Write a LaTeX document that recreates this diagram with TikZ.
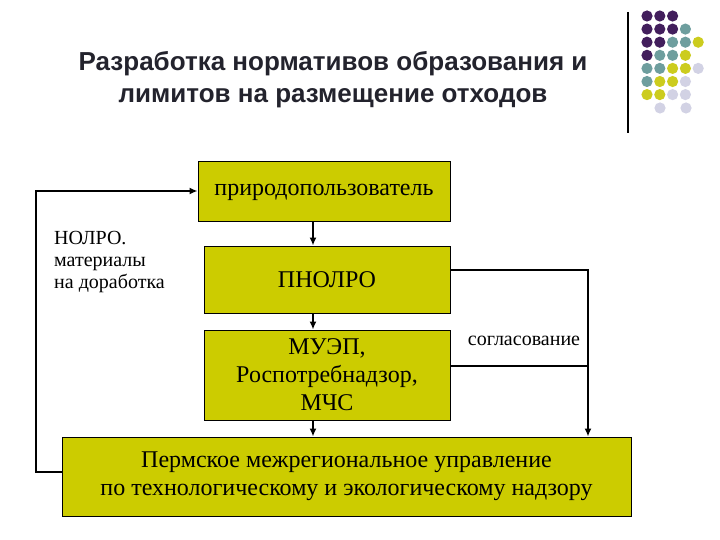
\documentclass[tikz,border=0pt]{standalone}
\usepackage{fontspec}
\usetikzlibrary{arrows.meta}
\setmainfont{Liberation Serif}
\newfontfamily\titlefont{Liberation Sans}
\definecolor{boxfill}{RGB}{204,204,0}
\definecolor{tcol}{RGB}{35,35,45}
\definecolor{dP}{RGB}{66,30,92}
\definecolor{dT}{RGB}{110,158,158}
\definecolor{dY}{RGB}{204,204,30}
\definecolor{dL}{RGB}{210,210,228}
\begin{document}
\begin{tikzpicture}[x=1pt,y=-1pt,
  box/.style={draw=black,line width=1pt,fill=boxfill,inner sep=0pt,font=\fontsize{24}{28}\selectfont,align=center},
  conn/.style={line width=1.5pt,-{Latex[length=8pt,width=7pt]}},
  plain/.style={line width=1.5pt}]
\useasboundingbox (0,0) rectangle (720,540);
\node[font=\titlefont\bfseries\fontsize{26}{32}\selectfont,text=tcol,align=center] (title) at (333,80) {Разработка нормативов образования и\\лимитов на размещение отходов};
\draw[line width=1.2pt] (628,12) -- (628,133);
% dots
\foreach \r/\row in {0/{P,P,P},1/{P,P,P,T},2/{P,P,T,T,Y},3/{P,T,T,Y},4/{T,T,Y,Y,L},5/{T,Y,Y,L},6/{Y,Y,L,L}}{
  \foreach \c [count=\i from 0] in \row {
    \fill[d\c] (647+12.8*\i,16+13.1*\r) circle (5.6);
  }
}
\fill[dL] (660,108) circle (5.6);
\fill[dL] (686,108) circle (5.6);
% boxes
\node[box,minimum width=252,minimum height=60] (b1) at (324,192) {природопользователь};
\node[box,minimum width=246,minimum height=67] (b2) at (327,279.5) {ПНОЛРО};
\node[box,minimum width=246,minimum height=90] (b3) at (327,375) {МУЭП,\\Роспотребнадзор,\\МЧС};
\node[box,minimum width=569,minimum height=79,fill=boxfill] (b4) at (346.5,476.5) {Пермское межрегиональное управление\\по технологическому и экологическому надзору};
\node[font=\fontsize{20}{22}\selectfont,align=left,anchor=north west,inner sep=0pt] (lbl) at (54,231) {НОЛРО.\\материалы\\на доработка};
\node[font=\fontsize{20}{22}\selectfont,inner sep=0pt] (agr) at (524,341) {согласование};
\coordinate (L1) at (36,472);
\coordinate (L2) at (36,191);
\coordinate (R1) at (588,270);
\coordinate (R2) at (588,366);
\coordinate (X) at (313,0);
\draw[conn] (b4.west |- L1) -- (L1) -- (L2) -- (b1.west |- L2);
\draw[conn] (X |- b1.south) -- (X |- b2.north);
\draw[conn] (X |- b2.south) -- (X |- b3.north);
\draw[conn] (X |- b3.south) -- (X |- b4.north);
\draw[conn] (b2.east |- R1) -- (R1) -- (R1 |- b4.north);
\draw[plain] (b3.east |- R2) -- (R2);
\end{tikzpicture}
\end{document}
